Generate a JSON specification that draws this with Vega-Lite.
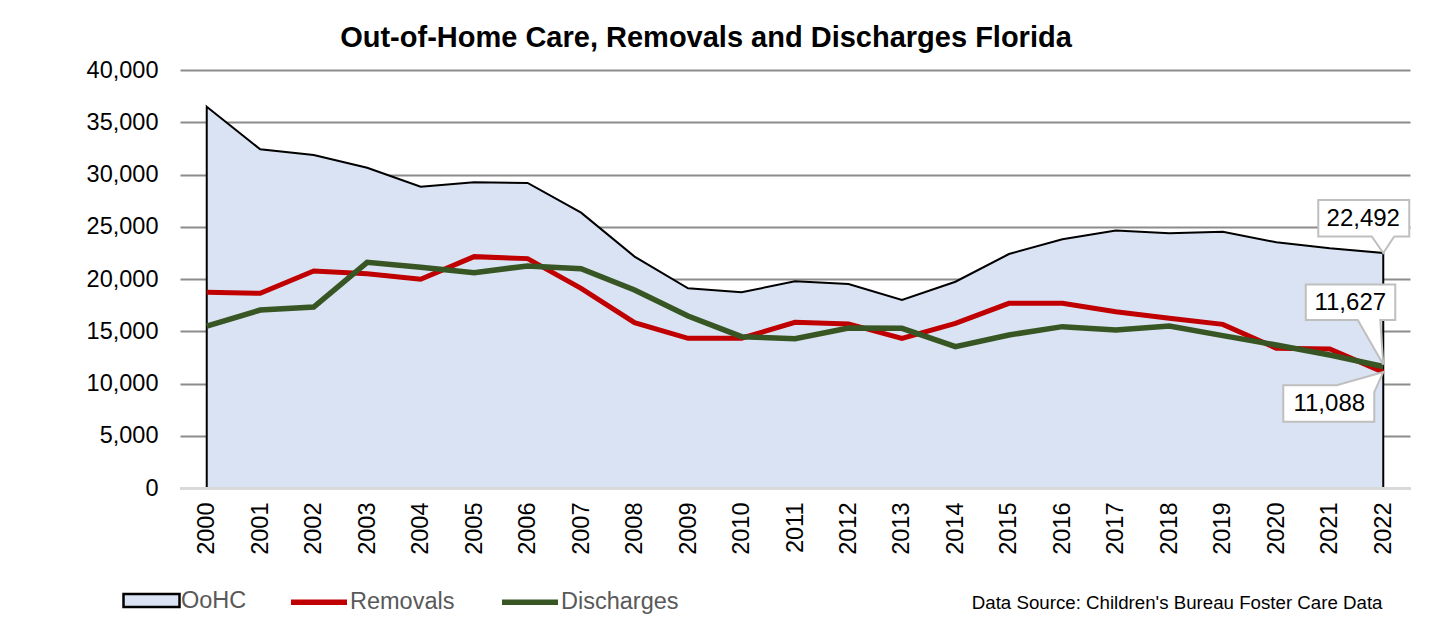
{
  "$schema": "https://vega.github.io/schema/vega-lite/v6.json",
  "autosize": {"type": "none"},
  "width": 1230,
  "height": 418,
  "padding": {"left": 180, "top": 70, "right": 42, "bottom": 147},
  "background": "white",
  "title": {
    "text": "Out-of-Home Care, Removals and Discharges Florida",
    "font": "Liberation Sans",
    "fontSize": 29,
    "fontWeight": "bold",
    "color": "#000000",
    "anchor": "middle",
    "frame": "group",
    "dx": -89,
    "offset": 5
  },
  "config": {
    "view": {"stroke": null},
    "font": "Liberation Sans"
  },
  "data": {
    "values": [
      {"year": "2000", "OoHC": 36490, "Removals": 18730, "Discharges": 15500},
      {"year": "2001", "OoHC": 32410, "Removals": 18630, "Discharges": 17030},
      {"year": "2002", "OoHC": 31870, "Removals": 20770, "Discharges": 17320},
      {"year": "2003", "OoHC": 30650, "Removals": 20510, "Discharges": 21600},
      {"year": "2004", "OoHC": 28830, "Removals": 19970, "Discharges": 21120},
      {"year": "2005", "OoHC": 29250, "Removals": 22140, "Discharges": 20610},
      {"year": "2006", "OoHC": 29190, "Removals": 21950, "Discharges": 21250},
      {"year": "2007", "OoHC": 26350, "Removals": 19110, "Discharges": 20990},
      {"year": "2008", "OoHC": 22140, "Removals": 15820, "Discharges": 18950},
      {"year": "2009", "OoHC": 19110, "Removals": 14320, "Discharges": 16460},
      {"year": "2010", "OoHC": 18730, "Removals": 14330, "Discharges": 14480},
      {"year": "2011", "OoHC": 19780, "Removals": 15860, "Discharges": 14290},
      {"year": "2012", "OoHC": 19520, "Removals": 15700, "Discharges": 15310},
      {"year": "2013", "OoHC": 17990, "Removals": 14320, "Discharges": 15280},
      {"year": "2014", "OoHC": 19740, "Removals": 15760, "Discharges": 13520},
      {"year": "2015", "OoHC": 22390, "Removals": 17670, "Discharges": 14640},
      {"year": "2016", "OoHC": 23800, "Removals": 17670, "Discharges": 15440},
      {"year": "2017", "OoHC": 24630, "Removals": 16870, "Discharges": 15120},
      {"year": "2018", "OoHC": 24370, "Removals": 16240, "Discharges": 15500},
      {"year": "2019", "OoHC": 24530, "Removals": 15660, "Discharges": 14580},
      {"year": "2020", "OoHC": 23510, "Removals": 13370, "Discharges": 13690},
      {"year": "2021", "OoHC": 22940, "Removals": 13300, "Discharges": 12730},
      {"year": "2022", "OoHC": 22492, "Removals": 11088, "Discharges": 11627}
    ]
  },
  "encoding": {
    "x": {
      "field": "year",
      "type": "ordinal",
      "scale": {"type": "point", "padding": 0.5},
      "axis": {
        "title": "Data Source: Children's Bureau Foster Care Data",
        "titleFont": "Liberation Sans",
        "titleFontSize": 18.7,
        "titleFontWeight": "normal",
        "titleColor": "#000000",
        "titleAnchor": "end",
        "titleAlign": "right",
        "titleBaseline": "middle",
        "titleAngle": 0,
        "titleX": 1202,
        "titleY": 114,
        "labelAngle": 270,
        "labelFontSize": 23.5,
        "labelColor": "#000000",
        "labelPadding": 14,
        "ticks": false,
        "domain": true,
        "domainColor": "#d9d9d9",
        "domainWidth": 3,
        "grid": false,
        "zindex": 1
      }
    }
  },
  "layer": [
    {
      "mark": {"type": "area", "stroke": "#000000", "strokeWidth": 2, "opacity": 1},
      "encoding": {
        "y": {
          "field": "OoHC",
          "type": "quantitative",
          "scale": {"domain": [0, 40000]},
          "axis": {
            "title": null,
            "values": [0, 5000, 10000, 15000, 20000, 25000, 30000, 35000, 40000],
            "format": ",d",
            "labelFontSize": 23.5,
            "labelColor": "#000000",
            "labelPadding": 22,
            "ticks": false,
            "domain": false,
            "grid": true,
            "gridColor": "#8c8c8c",
            "gridWidth": 2
          }
        },
        "fill": {
          "datum": "OoHC",
          "scale": {"domain": ["OoHC"], "range": ["#dae3f3"]},
          "legend": {
            "title": null,
            "orient": "none",
            "direction": "horizontal",
            "legendX": -58,
            "legendY": 501,
            "symbolType": "M-1,-0.23H1V0.23H-1Z",
            "symbolSize": 3136,
            "symbolFillColor": "#dae3f3",
            "symbolStrokeColor": "#000000",
            "symbolStrokeWidth": 2.5,
            "symbolOpacity": 1,
            "labelFontSize": 23.5,
            "labelColor": "#595959",
            "labelOffset": 0
          }
        }
      }
    },
    {
      "mark": {"type": "line", "strokeWidth": 5},
      "encoding": {
        "y": {"field": "Removals", "type": "quantitative"},
        "stroke": {
          "datum": "Removals",
          "scale": {"domain": ["Removals", "Discharges"], "range": ["#c00000", "#375623"]},
          "legend": {
            "title": null,
            "orient": "none",
            "direction": "horizontal",
            "legendX": 108,
            "legendY": 501,
            "symbolType": "stroke",
            "symbolSize": 3136,
            "symbolStrokeWidth": 5.5,
            "symbolOpacity": 1,
            "labelFontSize": 23.5,
            "labelColor": "#595959",
            "labelOffset": 0,
            "columnPadding": 36
          }
        }
      }
    },
    {
      "mark": {"type": "line", "strokeWidth": 5.5},
      "encoding": {
        "y": {"field": "Discharges", "type": "quantitative"},
        "stroke": {"datum": "Discharges"}
      }
    },
    {
      "transform": [{"filter": "datum.year === '2022'"}],
      "mark": {"type": "point", "shape": "M-65,-53H26V-16.5H11L0,0L-11.5,-16.5H-65Z", "size": 4, "filled": true, "fill": "#ffffff", "stroke": "#bfbfbf", "strokeWidth": 2, "opacity": 1},
      "encoding": {"y": {"field": "OoHC", "type": "quantitative"}}
    },
    {
      "transform": [{"filter": "datum.year === '2022'"}],
      "mark": {"type": "point", "shape": "M-77.5,-82H12V-46.5H-3L0,-2L-25.5,-46.5H-77.5Z", "size": 4, "filled": true, "fill": "#ffffff", "stroke": "#bfbfbf", "strokeWidth": 2, "opacity": 1},
      "encoding": {"y": {"field": "Discharges", "type": "quantitative"}}
    },
    {
      "transform": [{"filter": "datum.year === '2022'"}],
      "mark": {"type": "point", "shape": "M-100,13H-46.5L0,0L-9,20V49.5H-100Z", "size": 4, "filled": true, "fill": "#ffffff", "stroke": "#bfbfbf", "strokeWidth": 2, "opacity": 1},
      "encoding": {"y": {"field": "Removals", "type": "quantitative"}}
    },
    {
      "transform": [{"filter": "datum.year === '2022'"}],
      "mark": {"type": "text", "dx": -20, "dy": -34, "fontSize": 24, "color": "#000000", "align": "center", "baseline": "middle"},
      "encoding": {"y": {"field": "OoHC", "type": "quantitative"}, "text": {"field": "OoHC", "type": "quantitative", "format": ",d"}}
    },
    {
      "transform": [{"filter": "datum.year === '2022'"}],
      "mark": {"type": "text", "dx": -33, "dy": -63, "fontSize": 24, "color": "#000000", "align": "center", "baseline": "middle"},
      "encoding": {"y": {"field": "Discharges", "type": "quantitative"}, "text": {"field": "Discharges", "type": "quantitative", "format": ",d"}}
    },
    {
      "transform": [{"filter": "datum.year === '2022'"}],
      "mark": {"type": "text", "dx": -54, "dy": 32, "fontSize": 24, "color": "#000000", "align": "center", "baseline": "middle"},
      "encoding": {"y": {"field": "Removals", "type": "quantitative"}, "text": {"field": "Removals", "type": "quantitative", "format": ",d"}}
    }
  ]
}
